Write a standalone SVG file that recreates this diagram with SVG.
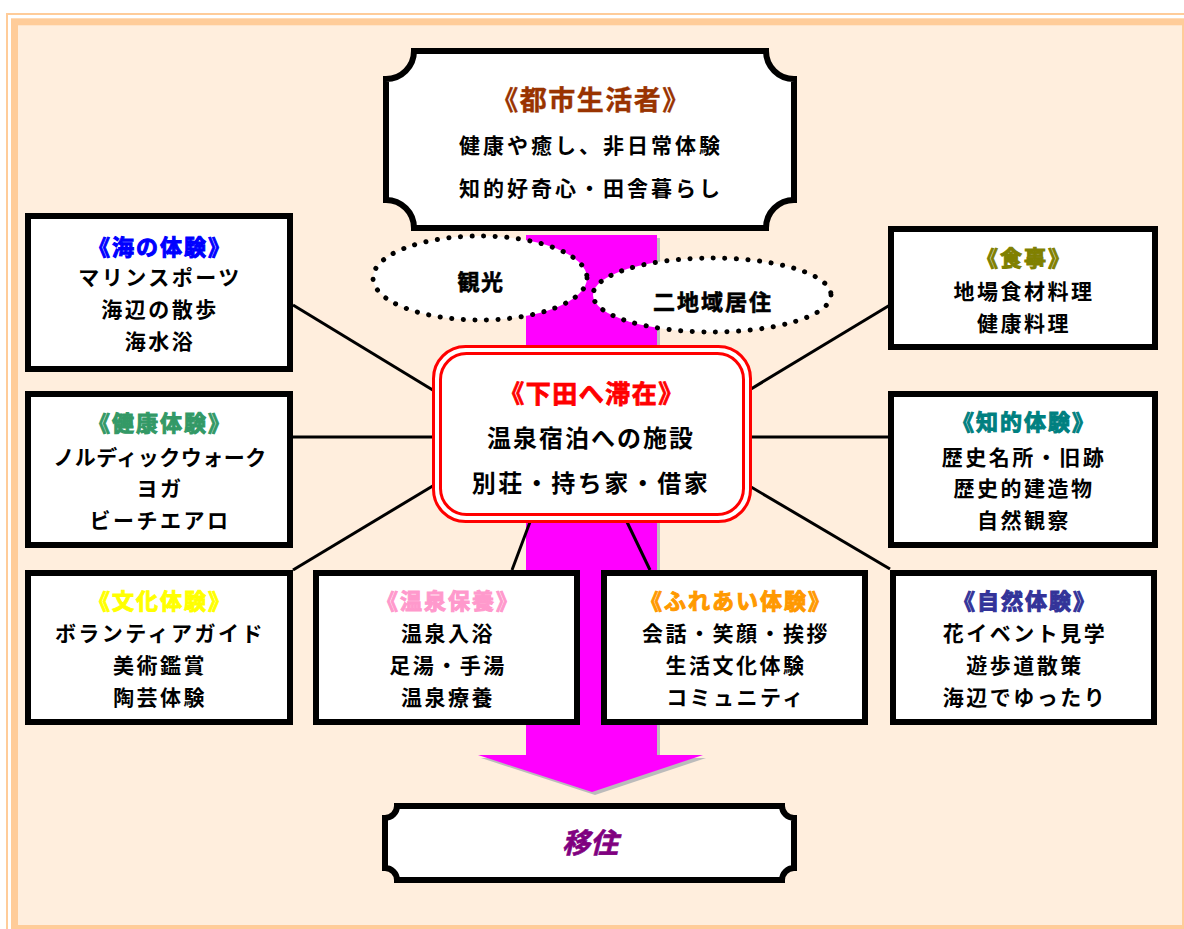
<svg xmlns="http://www.w3.org/2000/svg" width="1184" height="929" viewBox="0 0 1184 929">
<style>
text{font-family:"Noto Sans CJK JP","Noto Sans",sans-serif;font-weight:bold;text-anchor:middle}
.ln{font-size:21px;fill:#000;letter-spacing:2.5px}
.tt{font-size:22px;letter-spacing:2px;stroke-width:1px}
.box{fill:#fff;stroke:#000;stroke-width:6}
.con line{stroke:#000;stroke-width:3}
.dot{fill:#fff;stroke:#000;stroke-width:5;stroke-dasharray:0.1 11.5;stroke-linecap:round}
</style>
<rect x="7" y="14" width="1200" height="1000" fill="none" stroke="#FFCC99" stroke-width="2"/>
<rect x="14.5" y="21.8" width="1171" height="906.7" fill="#FFEEDD" stroke="#FFCC99" stroke-width="7"/>

<g id="arrow">
<polygon points="529,238 660,238 660,758 706,758 595,795 481,758 529,758" fill="#BBBBBB"/>
<polygon points="526,235 657,235 657,755 703,755 592,792 478,755 526,755" fill="#FF00FF"/>
</g>

<g id="connectors" class="con">
<line x1="293" y1="305" x2="436" y2="392"/>
<line x1="293" y1="437" x2="436" y2="437"/>
<line x1="293" y1="570" x2="436" y2="484"/>
<line x1="530" y1="522" x2="512" y2="570"/>
<line x1="627" y1="522" x2="650" y2="570"/>
<line x1="746" y1="392" x2="890" y2="305"/>
<line x1="746" y1="437" x2="890" y2="437"/>
<line x1="746" y1="484" x2="890" y2="569"/>
</g>

<g id="top">
<path class="box" d="M414,51 H766 A28,28 0 0 0 794,79 V200 A28,28 0 0 0 766,228 H414 A28,28 0 0 0 386,200 V79 A28,28 0 0 0 414,51 Z"/>
<text x="591" y="110" style="font-size:27px;fill:#993300;letter-spacing:1.5px;stroke:#993300;stroke-width:0.4px">《都市生活者》</text>
<text x="591" y="153" class="ln" style="letter-spacing:3px">健康や癒し、非日常体験</text>
<text x="591" y="196" class="ln" style="letter-spacing:3px">知的好奇心・田舎暮らし</text>
</g>

<g id="kanko">
<ellipse class="dot" cx="480" cy="278" rx="107" ry="42"/>
<text x="481" y="290" style="font-size:22px;letter-spacing:1.5px;stroke:#000;stroke-width:0.6px">観光</text>
</g>
<g id="nichiiki">
<ellipse class="dot" cx="712" cy="295" rx="119" ry="37"/>
<text x="713" y="310" style="font-size:22px;letter-spacing:2px;stroke:#000;stroke-width:0.6px">二地域居住</text>
</g>

<g id="center">
<rect x="433.5" y="346.5" width="317" height="175" rx="32" fill="#fff" stroke="#FF0000" stroke-width="3"/>
<rect x="440.5" y="353.5" width="303" height="161" rx="26" fill="none" stroke="#FF0000" stroke-width="3"/>
<text x="592" y="403" style="font-size:25px;fill:#FF0000;letter-spacing:1.5px;stroke:#FF0000;stroke-width:0.8px">《下田へ滞在》</text>
<text x="591" y="447" style="font-size:24px;letter-spacing:2px">温泉宿泊への施設</text>
<text x="591" y="492" style="font-size:24px;letter-spacing:2.5px">別荘・持ち家・借家</text>
</g>

<g id="umi">
<rect class="box" x="28" y="216" width="262" height="153"/>
<text x="160" y="255" class="tt" style="fill:#0000FF;stroke:#0000FF">《海の体験》</text>
<text x="160" y="285" class="ln">マリンスポーツ</text>
<text x="160" y="317" class="ln">海辺の散歩</text>
<text x="160" y="349" class="ln">海水浴</text>
</g>

<g id="kenko">
<rect class="box" x="28" y="394" width="262" height="151"/>
<text x="160" y="431" class="tt" style="fill:#339966;stroke:#339966">《健康体験》</text>
<text x="160" y="465" class="ln" style="letter-spacing:0.5px">ノルディックウォーク</text>
<text x="160" y="496" class="ln">ヨガ</text>
<text x="160" y="528" class="ln">ビーチエアロ</text>
</g>

<g id="bunka">
<rect class="box" x="28" y="573" width="262" height="149"/>
<text x="160" y="609" class="tt" style="fill:#FFFF00;stroke:#FFFF00">《文化体験》</text>
<text x="160" y="641" class="ln">ボランティアガイド</text>
<text x="160" y="673" class="ln">美術鑑賞</text>
<text x="160" y="705" class="ln">陶芸体験</text>
</g>

<g id="onsen">
<rect class="box" x="316" y="573" width="261" height="149"/>
<text x="448" y="609" class="tt" style="fill:#FF99CC;stroke:#FF99CC">《温泉保養》</text>
<text x="448" y="641" class="ln">温泉入浴</text>
<text x="448" y="673" class="ln">足湯・手湯</text>
<text x="448" y="705" class="ln">温泉療養</text>
</g>

<g id="fureai">
<rect class="box" x="604" y="573" width="261" height="149"/>
<text x="736" y="609" class="tt" style="fill:#FF9900;stroke:#FF9900">《ふれあい体験》</text>
<text x="736" y="641" class="ln">会話・笑顔・挨拶</text>
<text x="736" y="673" class="ln">生活文化体験</text>
<text x="736" y="705" class="ln">コミュニティ</text>
</g>

<g id="shizen">
<rect class="box" x="893" y="573" width="261" height="149"/>
<text x="1025" y="609" class="tt" style="fill:#333399;stroke:#333399">《自然体験》</text>
<text x="1025" y="641" class="ln">花イベント見学</text>
<text x="1025" y="673" class="ln">遊歩道散策</text>
<text x="1025" y="705" class="ln">海辺でゆったり</text>
</g>

<g id="shokuji">
<rect class="box" x="891" y="229" width="264" height="118"/>
<text x="1024" y="266" class="tt" style="fill:#808000;stroke:#808000">《食事》</text>
<text x="1024" y="299" class="ln">地場食材料理</text>
<text x="1024" y="331" class="ln">健康料理</text>
</g>

<g id="chiteki">
<rect class="box" x="891" y="394" width="264" height="151"/>
<text x="1024" y="430" class="tt" style="fill:#008080;stroke:#008080">《知的体験》</text>
<text x="1024" y="465" class="ln">歴史名所・旧跡</text>
<text x="1024" y="496" class="ln">歴史的建造物</text>
<text x="1024" y="528" class="ln">自然観察</text>
</g>

<g id="iju">
<path class="box" d="M397,806 H782 A12,12 0 0 0 794,818 V868 A12,12 0 0 0 782,880 H397 A12,12 0 0 0 385,868 V818 A12,12 0 0 0 397,806 Z"/>
<text x="590" y="853" style="font-size:28px;font-style:italic;fill:#800080;stroke:#800080;stroke-width:0.6px">移住</text>
</g>
</svg>
